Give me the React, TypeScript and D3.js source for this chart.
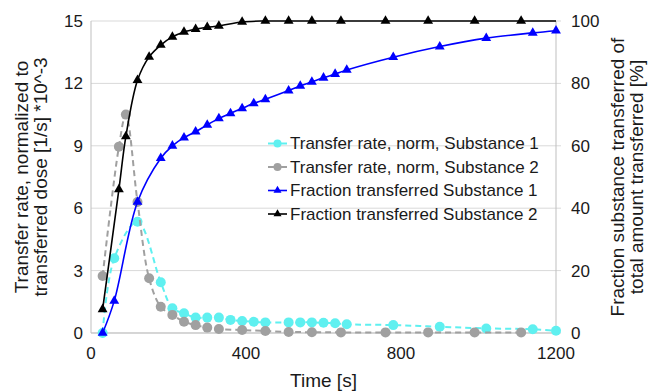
import React from "react";
import * as d3 from "d3";

// substance 1 sampling times and values
const times1 = [30, 60, 120, 180, 210, 240, 270, 300, 330, 360, 390, 420, 450, 510, 540, 570, 600, 630, 660, 780, 900, 1020, 1140, 1200];
const rate1 = [0, 3.59, 5.35, 2.44, 1.19, 0.95, 0.74, 0.74, 0.74, 0.63, 0.58, 0.54, 0.51, 0.51, 0.51, 0.51, 0.49, 0.47, 0.42, 0.38, 0.3, 0.22, 0.18, 0.11];
const fraction1 = [0, 10.3, 42, 56, 60, 62.6, 64.5, 66.7, 68.8, 70.4, 72, 73.6, 74.9, 77.7, 79.2, 80.5, 81.8, 83, 84.3, 88.4, 91.8, 94.5, 96.2, 96.9];

// substance 2 sampling times and values
const times2 = [30, 72, 90, 120, 150, 180, 210, 240, 270, 300, 330, 390, 450, 510, 570, 645, 760, 870, 990, 1110];
const rate2 = [2.74, 8.96, 10.5, 6.3, 2.63, 1.26, 0.87, 0.54, 0.38, 0.26, 0.19, 0.14, 0.1, 0.05, 0.04, 0.03, 0.03, 0.03, 0.03, 0.03];
const fraction2 = [7.6, 46, 63, 81, 88.5, 92.3, 94.9, 96.5, 97.4, 98, 98.4, 99.7, 100, 100, 100, 100, 100, 100, 100, 100];
// line of substance 2 continues to the end of the axis without a marker
const fraction2End = { t: 1200, v: 100 };

const xTicks = [0, 400, 800, 1200];
const leftTicks = [0, 3, 6, 9, 12, 15];
const rightTicks = [0, 20, 40, 60, 80, 100];

const legendItems = [
  { label: "Transfer rate, norm, Substance 1", color: "#5ff0f0", shape: "circle", dash: true },
  { label: "Transfer rate, norm, Substance 2", color: "#a0a0a0", shape: "circle", dash: true },
  { label: "Fraction transferred Substance 1", color: "#0000ff", shape: "triangle", dash: false },
  { label: "Fraction transferred Substance 2", color: "#000000", shape: "triangle", dash: false },
];

const font = "'Liberation Sans', Arial, sans-serif";

export default function App() {
  const width = 649;
  const height = 392;
  const left = 91, right = 556, top = 21, bottom = 333;

  const x = d3.scaleLinear().domain([0, 1200]).range([left, right]);
  const yL = d3.scaleLinear().domain([0, 15]).range([bottom, top]);
  const yR = d3.scaleLinear().domain([0, 100]).range([bottom, top]);

  const curve = d3.curveCatmullRom.alpha(0.5);
  const lineL = d3.line<[number, number]>().x((d) => x(d[0])).y((d) => yL(d[1])).curve(curve);
  const lineR = d3.line<[number, number]>().x((d) => x(d[0])).y((d) => yR(d[1])).curve(curve);

  const r1 = times1.map((t, i) => [t, rate1[i]] as [number, number]);
  const r2 = times2.map((t, i) => [t, rate2[i]] as [number, number]);
  const f1 = times1.map((t, i) => [t, fraction1[i]] as [number, number]);
  const f2 = times2.map((t, i) => [t, fraction2[i]] as [number, number]);
  const f2line = [...f2, [fraction2End.t, fraction2End.v] as [number, number]];

  const tri = d3.symbol(d3.symbolTriangle, 42)();
  const triSmall = d3.symbol(d3.symbolTriangle, 28)();

  const midY = (top + bottom) / 2;

  return (
    <svg width={width} height={height} style={{ position: "absolute", left: 0, top: 0, background: "#fff" }} fontFamily={font}>
      {/* grid */}
      {leftTicks.map((t) => (
        <line key={"g" + t} x1={left} x2={right + 5} y1={yL(t)} y2={yL(t)} stroke="#d9d9d9" strokeWidth={1} />
      ))}
      <line x1={left} x2={left} y1={top} y2={bottom} stroke="#bfbfbf" />
      <line x1={right} x2={right} y1={top} y2={bottom} stroke="#bfbfbf" />
      <line x1={left} x2={right} y1={bottom} y2={bottom} stroke="#bfbfbf" />

      {/* tick labels */}
      {leftTicks.map((t) => (
        <text key={"l" + t} x={83} y={yL(t)} dy="0.35em" textAnchor="end" fontSize={17} fill="#1a1a1a">{t}</text>
      ))}
      {rightTicks.map((t) => (
        <text key={"r" + t} x={571} y={yR(t)} dy="0.35em" textAnchor="start" fontSize={17} fill="#1a1a1a">{t}</text>
      ))}
      {xTicks.map((t) => (
        <text key={"x" + t} x={x(t)} y={359} textAnchor="middle" fontSize={17} fill="#1a1a1a">{t}</text>
      ))}
      <text x={x(600)} y={387} textAnchor="middle" fontSize={19} fill="#1a1a1a">Time [s]</text>

      <text transform={`translate(28,${midY}) rotate(-90)`} textAnchor="middle" fontSize={19} fill="#1a1a1a">Transfer rate, normalized to</text>
      <text transform={`translate(47,${midY}) rotate(-90)`} textAnchor="middle" fontSize={19} fill="#1a1a1a">transferred dose [1/s] *10^-3</text>
      <text transform={`translate(624,${midY}) rotate(-90)`} textAnchor="middle" fontSize={19} fill="#1a1a1a">Fraction substance transferred of</text>
      <text transform={`translate(643,${midY}) rotate(-90)`} textAnchor="middle" fontSize={19} fill="#1a1a1a">total amount transferred [%]</text>

      {/* rate series */}
      <path d={lineL(r1) || ""} fill="none" stroke="#5ff0f0" strokeWidth={2} strokeDasharray="6,4" />
      {r1.map((d, i) => (
        <circle key={"c1" + i} cx={x(d[0])} cy={yL(d[1])} r={5} fill="#5ff0f0" />
      ))}
      <path d={lineL(r2) || ""} fill="none" stroke="#a0a0a0" strokeWidth={2} strokeDasharray="6,4" />
      {r2.map((d, i) => (
        <circle key={"c2" + i} cx={x(d[0])} cy={yL(d[1])} r={5} fill="#a0a0a0" />
      ))}

      {/* fraction series */}
      <path d={lineR(f1) || ""} fill="none" stroke="#0000ff" strokeWidth={1.6} />
      {f1.map((d, i) => (
        <path key={"t1" + i} d={tri || ""} transform={`translate(${x(d[0])},${yR(d[1])})`} fill="#0000ff" />
      ))}
      <path d={lineR(f2line) || ""} fill="none" stroke="#000" strokeWidth={1.6} />
      {f2.map((d, i) => (
        <path key={"t2" + i} d={tri || ""} transform={`translate(${x(d[0])},${yR(d[1])})`} fill="#000" />
      ))}

      {/* legend */}
      {legendItems.map((it, i) => {
        const ly = 143.5 + i * 23.5;
        return (
          <g key={"lg" + i}>
            <line x1={268} x2={287} y1={ly} y2={ly} stroke={it.color} strokeWidth={it.dash ? 2 : 1.6} />
            {it.shape === "circle" ? (
              <circle cx={277.5} cy={ly} r={4} fill={it.color} />
            ) : (
              <path d={triSmall || ""} transform={`translate(277.5,${ly})`} fill={it.color} />
            )}
            <text x={290} y={ly} dy="0.35em" fontSize={17} fill="#1a1a1a">{it.label}</text>
          </g>
        );
      })}
    </svg>
  );
}
